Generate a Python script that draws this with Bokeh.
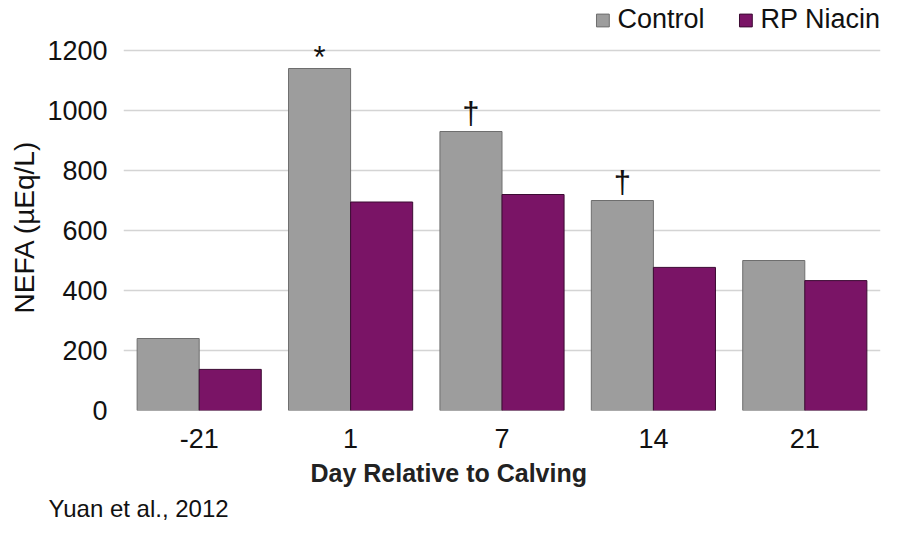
from bokeh.plotting import figure
from bokeh.models import ColumnDataSource, Range1d, FixedTicker, Legend, LegendItem, Title, FactorRange
from bokeh.transform import dodge
from bokeh.core.properties import value
from bokeh.embed import file_html
from bokeh.resources import INLINE

days = ["-21", "1", "7", "14", "21"]
control = [240, 1140, 930, 700, 500]
rp_niacin = [137, 695, 720, 477, 433]
star_marks = ["", "*", "", "", ""]
dagger_marks = ["", "", "\u2020", "\u2020", ""]
y_ticks = [0, 200, 400, 600, 800, 1000, 1200]

FONT = "Liberation Sans"

src = ColumnDataSource(dict(days=days, control=control, rp=rp_niacin,
                            star=star_marks, dagger=dagger_marks))

p = figure(x_range=FactorRange(*days), y_range=Range1d(0, 1366.7),
           width=884, height=522, output_backend="svg", toolbar_location=None,
           min_border_left=123, min_border_right=4, min_border_top=0, min_border_bottom=112)
p.outline_line_color = None

r1 = p.vbar(x=dodge("days", -0.205, range=p.x_range), top="control", width=0.41, source=src,
            fill_color="#9d9d9d", line_color="#6e6e6e", line_width=1)
r2 = p.vbar(x=dodge("days", 0.205, range=p.x_range), top="rp", width=0.41, source=src,
            fill_color="#7a1466", line_color="#3c0b33", line_width=1)

p.text(x=dodge("days", -0.205, range=p.x_range), y="control", text="star", source=src,
       text_align="center", text_baseline="alphabetic", y_offset=-11,
       text_font=value(FONT), text_font_size="31px", text_color="#111111")
p.text(x=dodge("days", -0.205, range=p.x_range), y="control", text="dagger", source=src,
       text_align="center", text_baseline="alphabetic", y_offset=-18,
       text_font=value(FONT), text_font_size="31px", text_color="#111111")

p.yaxis.ticker = FixedTicker(ticks=y_ticks)
p.ygrid.ticker = FixedTicker(ticks=y_ticks)
p.ygrid.grid_line_color = "#d4d4d4"
p.ygrid.grid_line_width = 1.5
p.xgrid.grid_line_color = None

for ax in (p.xaxis[0], p.yaxis[0]):
    ax.axis_line_color = None
    ax.major_tick_line_color = None
    ax.minor_tick_line_color = None
    ax.major_label_text_font = FONT
    ax.major_label_text_font_size = "27px"
    ax.major_label_text_color = "#111111"

p.yaxis.major_label_standoff = 10
p.xaxis.major_label_standoff = 12

y_title = Title(text="NEFA (\u00b5Eq/L)", align="left", text_font=FONT,
                text_font_size="28px", text_font_style="normal", text_color="#111111",
                offset=97, standoff=10)
p.add_layout(y_title, "left")

legend = Legend(items=[LegendItem(label="Control", renderers=[r1]),
                       LegendItem(label="RP Niacin", renderers=[r2])],
                location="top_right", orientation="horizontal")
legend.border_line_color = None
legend.background_fill_alpha = 0
legend.label_text_font = FONT
legend.label_text_font_size = "27px"
legend.label_text_color = "#111111"
legend.glyph_width = 16
legend.glyph_height = 16
legend.label_height = 39
legend.spacing = 33
legend.margin = 0
legend.padding = 4
legend.label_standoff = 7
p.add_layout(legend)

x_title = Title(text="Day Relative to Calving", align="left", text_font=FONT,
                text_font_size="25px", text_font_style="bold", text_color="#222222",
                offset=187, standoff=12)
p.add_layout(x_title, "below")

src_title = Title(text="Yuan et al., 2012", align="left", text_font=FONT,
                  text_font_size="24px", text_font_style="normal", text_color="#111111",
                  offset=-75, standoff=0)
p.add_layout(src_title, "below")

open("out.html", "w").write(file_html(p, INLINE))
